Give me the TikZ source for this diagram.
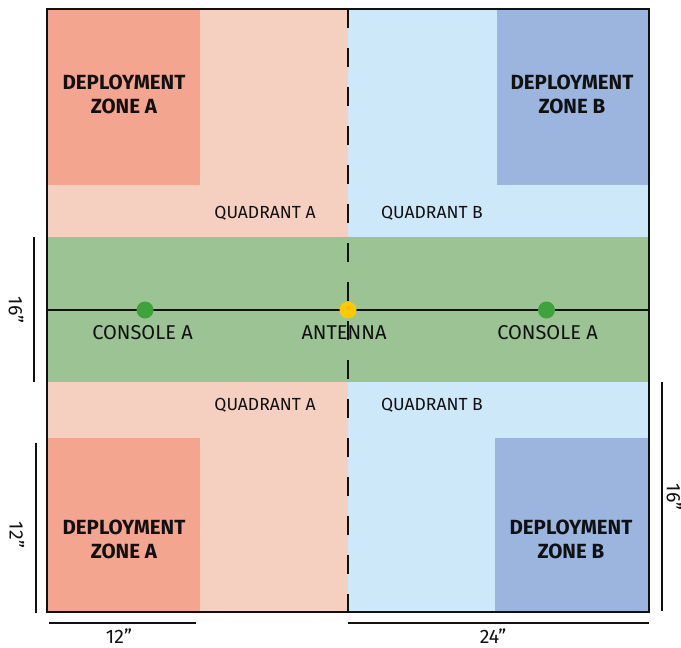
\documentclass[tikz,border=0pt]{standalone}
\usepackage{fontspec}
\setmainfont{Fira Sans}
\definecolor{zoneA}{HTML}{F4A58F}
\definecolor{quadA}{HTML}{F5D0C1}
\definecolor{quadB}{HTML}{CDE8F9}
\definecolor{zoneB}{HTML}{9BB5DF}
\definecolor{band}{HTML}{9BC393}
\definecolor{dotG}{HTML}{3EA33A}
\definecolor{dotY}{HTML}{FFC800}
\definecolor{ink}{HTML}{111111}
\tikzset{
  zonelabel/.style={font=\bfseries\fontsize{20.5}{24}\selectfont, text=ink, align=center, inner sep=0pt},
  quadlabel/.style={font=\fontsize{17.5}{20}\selectfont, text=ink, inner sep=0pt},
  pointlabel/.style={font=\fontsize{20}{22}\selectfont, text=ink, inner sep=0pt},
  dimlabel/.style={font=\fontsize{19.5}{22}\selectfont, text=ink, inner sep=0pt},
  dimline/.style={draw=ink, line width=1.5pt},
  dotnode/.style={circle, minimum size=17pt, inner sep=0pt},
  midline/.style={draw=ink, line width=2pt, dash pattern=on 19pt off 20pt},
}
\begin{document}
\begin{tikzpicture}[x=1pt,y=-1pt]
\useasboundingbox (0,0) rectangle (681,648);
% quadrants
\fill[quadA] (47,9) rectangle (348,612);
\fill[quadB] (348,9) rectangle (649,612);
% deployment zones
\fill[zoneA] (47,9) rectangle (200,185);
\fill[zoneB] (497,9) rectangle (649,185);
\fill[zoneA] (47,438) rectangle (200,612);
\fill[zoneB] (495,438) rectangle (649,612);
% green band
\fill[band] (47,237) rectangle (649,382);
% centre dashed line
\coordinate (ctop) at (348,9);
\coordinate (cbot) at (348,612);
\draw[midline] (ctop) -- (cbot);
% horizontal line
\coordinate (hl) at (47,310);
\coordinate (hr) at (649,310);
\draw[draw=ink, line width=2pt] (hl) -- (hr);
% dots
\node[dotnode, fill=dotG] (conA) at (145,310) {};
\node[dotnode, fill=dotY] (ant) at (348,310) {};
\node[dotnode, fill=dotG] (conB) at (546.5,310) {};
% frame
\draw[draw=ink, line width=2pt] (47,9) rectangle (649,612);
% labels
\node[zonelabel] (zA1) at (124,94) {DEPLOYMENT\\ZONE A};
\node[zonelabel] (zB1) at (572,94) {DEPLOYMENT\\ZONE B};
\node[zonelabel] (zA2) at (124,539) {DEPLOYMENT\\ZONE A};
\node[zonelabel] (zB2) at (571,539) {DEPLOYMENT\\ZONE B};
\node[quadlabel] (qA1) at (265,213) {QUADRANT A};
\node[quadlabel] (qB1) at (432,213) {QUADRANT B};
\node[quadlabel] (qA2) at (265,405) {QUADRANT A};
\node[quadlabel] (qB2) at (432,405) {QUADRANT B};
\node[pointlabel] (lA) at (142.5,333) {CONSOLE A};
\node[pointlabel] (lant) at (344,333) {ANTENNA};
\node[pointlabel] (lB) at (547.5,333) {CONSOLE A};
% dimensions
\coordinate (d1a) at (34,237); \coordinate (d1b) at (34,382);
\draw[dimline] (d1a) -- (d1b);
\node[dimlabel, rotate=-90] (t1) at (16,310) {16”};
\coordinate (d2a) at (36,443); \coordinate (d2b) at (36,613);
\draw[dimline] (d2a) -- (d2b);
\node[dimlabel, rotate=-90] (t2) at (17,535) {12”};
\coordinate (d3a) at (49,623); \coordinate (d3b) at (196,623);
\draw[dimline] (d3a) -- (d3b);
\node[dimlabel] (t3) at (119,636) {12”};
\coordinate (d4a) at (348,623); \coordinate (d4b) at (649,623);
\draw[dimline] (d4a) -- (d4b);
\node[dimlabel] (t4) at (493,636) {24”};
\coordinate (d5a) at (662,382); \coordinate (d5b) at (662,611);
\draw[dimline] (d5a) -- (d5b);
\node[dimlabel, rotate=-90] (t5) at (674,497) {16”};
\end{tikzpicture}
\end{document}
